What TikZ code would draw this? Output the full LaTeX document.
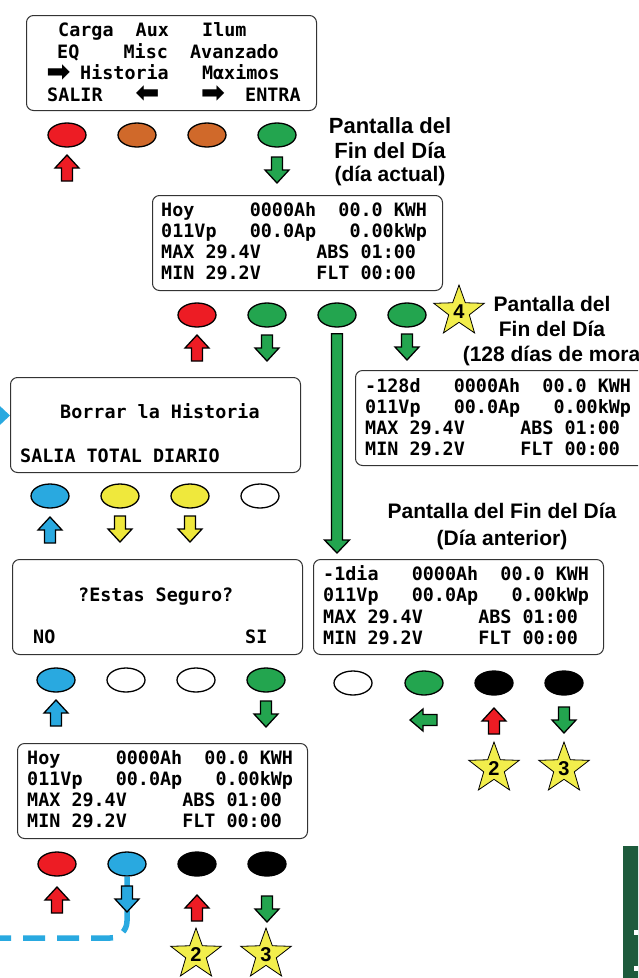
\documentclass[tikz,border=0pt]{standalone}
\usepackage{fontspec}
\usetikzlibrary{shapes.geometric,calc,arrows.meta}
\newfontfamily\lcdfam{DejaVu Sans Mono}
\newfontfamily\arrfam{DejaVu Sans}
\newfontfamily\hfam{Liberation Sans}
\newcommand\lcd{\lcdfam\bfseries\fontsize{18.4}{21}\selectfont}
\newcommand\ttl{\hfam\bfseries\fontsize{22}{24}\selectfont}
\newcommand\ttlb{\hfam\bfseries\fontsize{21}{24}\selectfont}
\newcommand\starf{\hfam\bfseries\fontsize{20}{20}\selectfont}
\newcommand\arrg{\arrfam\bfseries\fontsize{29}{29}\selectfont}
\definecolor{cred}{HTML}{ED1C24}
\definecolor{corange}{HTML}{D0692A}
\definecolor{cgreen}{HTML}{23A54F}
\definecolor{cblue}{HTML}{29A9E0}
\definecolor{cyellow}{HTML}{EFE83C}
\definecolor{cstar}{HTML}{F2EE4C}
\definecolor{cdkgreen}{HTML}{1E5B3C}
\tikzset{
  lcdbox/.style={draw=black!80, line width=1pt, rounded corners=7pt, minimum width=290pt, minimum height=95pt, anchor=north west, inner sep=0pt},
  row/.style={anchor=base west, inner sep=0pt, font=\lcd},
  glyph/.style={anchor=center, inner sep=0pt, font=\arrg},
  btn/.style={ellipse, draw=black, line width=1.3pt, minimum width=38pt, minimum height=24pt, inner sep=0pt},
  hdr/.style={anchor=base, inner sep=0pt, font=\ttl},
  hdrb/.style={anchor=base, inner sep=0pt, font=\ttlb},
  bigstar/.style={star, star points=5, star point ratio=2.45, draw=black, line width=0.8pt, fill=cstar, minimum size=53pt, inner sep=0pt, font=\starf},
  blk/.style={draw=black, line width=1.3pt, line join=miter},
  uparr/.pic={\draw[blk, pic actions] (0,0) -- (12,13) -- (5.5,13) -- (5.5,26) -- (-5.5,26) -- (-5.5,13) -- (-12,13) -- cycle;},
  downarr/.pic={\draw[blk, pic actions] (0,0) -- (12,-13) -- (5.5,-13) -- (5.5,-26) -- (-5.5,-26) -- (-5.5,-13) -- (-12,-13) -- cycle;},
  leftarr/.pic={\draw[blk, pic actions] (0,0) -- (13,-11) -- (13,-5.5) -- (27,-5.5) -- (27,5.5) -- (13,5.5) -- (13,11) -- cycle;},
  bluedash/.style={cblue, line width=5.5pt, dash pattern=on 22pt off 12pt, rounded corners=17pt, -{Triangle[length=11pt,width=20pt]}}
}
\begin{document}
\begin{tikzpicture}[x=1pt,y=-1pt]
\useasboundingbox (0,0) rectangle (638,978);
\clip (0,0) rectangle (638,978);
\fill[white] (0,0) rectangle (638,978);

% LCD boxes
\node[lcdbox] (b1) at (26,15) {};
\node[lcdbox] (b2) at (152,195) {};
\node[lcdbox] (b3) at (355,370) {};
\node[lcdbox] (b4) at (10,377) {};
\node[lcdbox] (b5) at (12,559) {};
\node[lcdbox] (b6) at (313,559) {};
\node[lcdbox] (b7) at (17,743) {};

% buttons
\node[btn, fill=cred] (o1a) at (67,135) {};
\node[btn, fill=corange] (o1b) at (137,135) {};
\node[btn, fill=corange] (o1c) at (207,135) {};
\node[btn, fill=cgreen] (o1d) at (277,135) {};

\node[btn, fill=cred] (o2a) at (197,315) {};
\node[btn, fill=cgreen] (o2b) at (267,315) {};
\node[btn, fill=cgreen] (o2c) at (337,315) {};
\node[btn, fill=cgreen] (o2d) at (407,315) {};

\node[btn, fill=cblue] (o4a) at (50,496) {};
\node[btn, fill=cyellow] (o4b) at (120,496) {};
\node[btn, fill=cyellow] (o4c) at (190,496) {};
\node[btn, fill=white] (o4d) at (260,496) {};

\node[btn, fill=cblue] (o5a) at (56,680) {};
\node[btn, fill=white] (o5b) at (126,680) {};
\node[btn, fill=white] (o5c) at (196,680) {};
\node[btn, fill=cgreen] (o5d) at (266,680) {};

\node[btn, fill=white] (o6a) at (353,683) {};
\node[btn, fill=cgreen] (o6b) at (424,683) {};
\node[btn, fill=black] (o6c) at (494,683) {};
\node[btn, fill=black] (o6d) at (564,683) {};

\node[btn, fill=cred] (o7a) at (57,864) {};
\node[btn, fill=cblue] (o7b) at (127,864) {};
\node[btn, fill=black] (o7c) at (197,864) {};
\node[btn, fill=black] (o7d) at (267,864) {};

% blue dashed return line
\coordinate (loopL) at (-40,938);
\draw[bluedash] (o7b.south) |- (loopL) |- ($(b4.west)+(0,-9.5)$);

% block arrows
\pic[fill=cred] at (67,155) {uparr};
\pic[fill=cgreen] at (277,183) {downarr};

\pic[fill=cred] at (197,335) {uparr};
\pic[fill=cgreen] at (267,361) {downarr};
\pic[fill=cgreen] at (407,360) {downarr};
\coordinate (lt) at ($(o2c.south)+(0,6)$);
\coordinate (lb) at ($(o2c |- b6.north)+(0,-6)$);
\draw[blk, fill=cgreen] ($(lt)+(-5.5,0)$) -- ($(lt)+(5.5,0)$) -- ($(lb)+(5.5,-13)$) -- ($(lb)+(12.5,-13)$) -- (lb) -- ($(lb)+(-12.5,-13)$) -- ($(lb)+(-5.5,-13)$) -- cycle;

\pic[fill=cblue] at (50,517) {uparr};
\pic[fill=cyellow] at (120,542) {downarr};
\pic[fill=cyellow] at (190,542) {downarr};

\pic[fill=cblue] at (56,700) {uparr};
\pic[fill=cgreen] at (266,727) {downarr};

\pic[fill=cgreen] at (410,720) {leftarr};
\pic[fill=cred] at (494,708) {uparr};
\pic[fill=cgreen] at (564,733) {downarr};

\pic[fill=cred] at (57,887) {uparr};
\pic[fill=cblue] at (127,912) {downarr};
\pic[fill=cred] at (197,895) {uparr};
\pic[fill=cgreen] at (267,922) {downarr};

% stars
\node[bigstar] (s4) at (459,311.5) {4};
\node[bigstar] (s2a) at (494,768.5) {2};
\node[bigstar] (s3a) at (564,768.5) {3};
\node[bigstar] (s2b) at (196,954.5) {2};
\node[bigstar] (s3b) at (266,954.5) {3};

% headings
\node[hdr] (h1a) at (390,133) {Pantalla del};
\node[hdr] (h1b) at (390,158) {Fin del Día};
\node[hdrb] (h1c) at (390,181) {(día actual)};
\node[hdrb] (h2a) at (552,311) {Pantalla del};
\node[hdrb] (h2b) at (552,336) {Fin del Día};
\node[hdrb] (h2c) at (555,361) {(128 días de mora)};
\node[hdrb] (h3a) at (502,518) {Pantalla del Fin del Día};
\node[hdrb] (h3b) at (502,545) {(Día anterior)};

% box 1 text
\node[row] (t1a) at (58,36.5) {Carga~~Aux~~~Ilum};
\node[row] (t1b) at (57,58) {EQ~~~~Misc~~Avanzado};
\node[glyph] (t1c) at (58.5,73.5) {➡};
\node[row] (t1d) at (80,79) {Historia~~~Mαximos};
\node[row] (t1e) at (47,101) {SALIR};
\node[glyph] (t1f) at (147.5,94.5) {\reflectbox{➡}};
\node[glyph] (t1g) at (213,94.5) {➡};
\node[row] (t1h) at (245,101) {ENTRA};

% box 2 text
\node[row] (t2a) at (161,216) {Hoy~~~~~0000Ah~~00.0~KWH};
\node[row] (t2b) at (161,237) {011Vp~~~00.0Ap~~~0.00kWp};
\node[row] (t2c) at (161,258) {MAX~29.4V~~~~~ABS~01:00};
\node[row] (t2d) at (161,279) {MIN~29.2V~~~~~FLT~00:00};

% box 3 text
\node[row] (t3a) at (365,392) {-128d~~~0000Ah~~00.0~KWH};
\node[row] (t3b) at (365,413) {011Vp~~~00.0Ap~~~0.00kWp};
\node[row] (t3c) at (365,434) {MAX~29.4V~~~~~ABS~01:00};
\node[row] (t3d) at (365,455) {MIN~29.2V~~~~~FLT~00:00};

% box 4 text
\node[row] (t4a) at (60,418) {Borrar~la~Historia};
\node[row] (t4b) at (20,462) {SALIA~TOTAL~DIARIO};

% box 5 text
\node[row] (t5a) at (78,601) {?Estas~Seguro?};
\node[row] (t5b) at (33,643) {NO};
\node[row] (t5c) at (245,643) {SI};

% box 6 text
\node[row] (t6a) at (323,580) {-1dia~~~0000Ah~~00.0~KWH};
\node[row] (t6b) at (323,601) {011Vp~~~00.0Ap~~~0.00kWp};
\node[row] (t6c) at (323,623) {MAX~29.4V~~~~~ABS~01:00};
\node[row] (t6d) at (323,644) {MIN~29.2V~~~~~FLT~00:00};

% box 7 text
\node[row] (t7a) at (27,764) {Hoy~~~~~0000Ah~~00.0~KWH};
\node[row] (t7b) at (27,785) {011Vp~~~00.0Ap~~~0.00kWp};
\node[row] (t7c) at (27,806) {MAX~29.4V~~~~~ABS~01:00};
\node[row] (t7d) at (27,827) {MIN~29.2V~~~~~FLT~00:00};

% corner panel
\fill[cdkgreen] (623,846) rectangle (645,985);
\fill[white] (634,930) rectangle (645,935);
\fill[white] (634,966) rectangle (645,971);
\end{tikzpicture}
\end{document}
